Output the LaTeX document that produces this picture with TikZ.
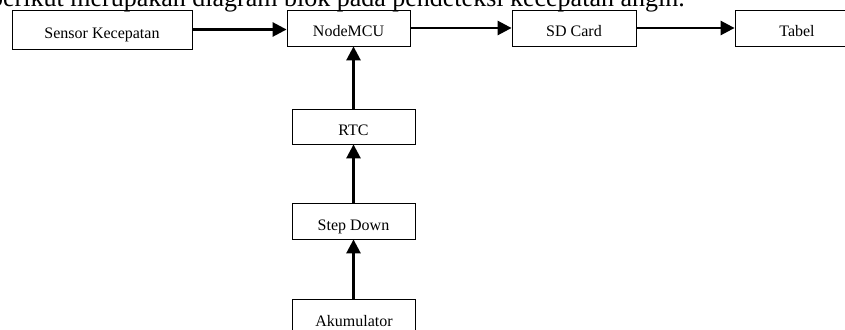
\documentclass[tikz,border=0pt]{standalone}
\usepackage{fontspec}
\setmainfont{Liberation Serif}
\usetikzlibrary{arrows.meta}
\tikzset{
  block/.style={draw=black, line width=0.8pt, minimum height=36pt, inner sep=0pt,
    text height=18pt, text depth=0pt, font=\fontsize{16}{19}\selectfont},
  conn/.style={draw=black, line width=2.6pt, -{Triangle[length=14pt,width=14pt]}},
  heading/.style={anchor=base west, inner sep=0pt, font=\fontsize{26}{30}\selectfont}
}

\begin{document}
\begin{tikzpicture}[x=1pt,y=-1pt]
  \clip (0,0) rectangle (845,329);

  \node[heading] (title) at (-10,7) {berikut merupakan diagram blok pada pendeteksi kecepatan angin.};

  % top row
  \node[block, minimum width=180pt, minimum height=39pt] (sensor) at (102,29.5) {Sensor Kecepatan};
  \node[block, minimum width=123pt] (mcu) at (348.5,28) {NodeMCU};
  \node[block, minimum width=124pt] (sd) at (574,28) {SD Card};
  \node[block, minimum width=124pt] (tabel) at (797,28) {Tabel};

  % power column
  \node[block, minimum width=123pt, minimum height=35pt] (rtc) at (353.5,126.5) {RTC};
  \node[block, minimum width=123pt] (stepdown) at (353.5,221) {Step Down};
  \node[block, minimum width=123pt] (akku) at (354,317) {Akumulator};

  \draw[conn] (sensor.east) -- (sensor.east -| mcu.west);
  \draw[conn] (mcu.east) -- (sd.west);
  \draw[conn] (sd.east) -- (tabel.west);

  \draw[conn] (rtc.north) -- (rtc.north |- mcu.south);
  \draw[conn] (stepdown.north) -- (stepdown.north |- rtc.south);
  \draw[conn] (stepdown.north |- akku.north) -- (stepdown.south);
\end{tikzpicture}
\end{document}
